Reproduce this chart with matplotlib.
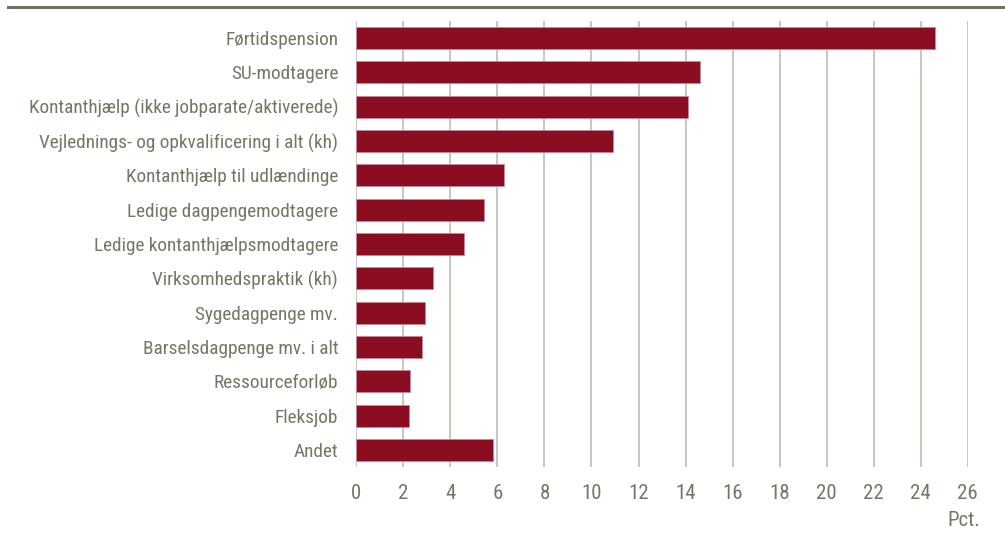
import matplotlib
matplotlib.use('Agg')
import matplotlib.pyplot as plt
from matplotlib.lines import Line2D
import numpy as np

plt.rcParams['font.family'] = ['Roboto Condensed', 'Archivo Narrow', 'PT Sans Narrow', 'DejaVu Sans']

categories = [
    'Førtidspension',
    'SU-modtagere',
    'Kontanthjælp (ikke jobparate/aktiverede)',
    'Vejlednings- og opkvalificering i alt (kh)',
    'Kontanthjælp til udlændinge',
    'Ledige dagpengemodtagere',
    'Ledige kontanthjælpsmodtagere',
    'Virksomhedspraktik (kh)',
    'Sygedagpenge mv.',
    'Barselsdagpenge mv. i alt',
    'Ressourceforløb',
    'Fleksjob',
    'Andet',
]
values = [24.6, 14.6, 14.1, 10.9, 6.3, 5.45, 4.6, 3.25, 2.9, 2.8, 2.3, 2.25, 5.8]
xticks = list(range(0, 27, 2))

bar_col = '#8a0d22'
grid_col = '#c9c7bd'
text_col = '#777664'

fig = plt.figure(figsize=(10.05, 5.4), dpi=100)
ax = fig.add_axes([356.3 / 1005, 1 - 467 / 540, (967.8 - 356.3) / 1005, (467 - 21) / 540])

y = np.arange(len(categories))
ax.barh(y, values, height=0.64, color=bar_col, edgecolor='#c48a95', linewidth=0.6, zorder=3)

ax.set_xlim(0, 26)
ax.set_ylim(len(categories) - 0.5, -0.5)
ax.set_xticks(xticks)
ax.set_yticks(y)
ax.set_yticklabels(categories)
ax.grid(axis='x', color=grid_col, linewidth=1.4, zorder=0)
ax.tick_params(axis='both', length=0, colors=text_col)
ax.tick_params(axis='y', labelsize=13.9, pad=13)
ax.tick_params(axis='x', labelsize=15, pad=12)
for s in ax.spines.values():
    s.set_visible(False)

fig.text(980 / 1005, 1 - 521 / 540, 'Pct.', ha='right', va='center',
         fontsize=15, color=text_col)

# rule across the top
fig.add_artist(Line2D([8 / 1005, 1], [1 - 7 / 540, 1 - 7 / 540],
                      color='#75715f', linewidth=2.2, transform=fig.transFigure))

fig.savefig('out.png', dpi=100)
